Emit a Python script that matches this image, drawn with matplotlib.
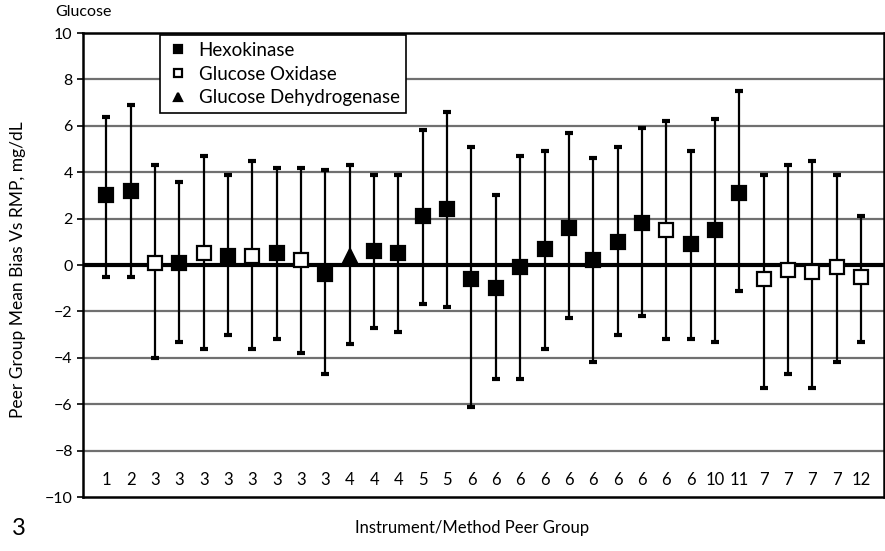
import matplotlib.pyplot as plt
import numpy as np

plt.rcParams['font.family'] = ['Lato', 'DejaVu Sans']

# peer group label, method (H = hexokinase, O = glucose oxidase, D = dehydrogenase)
groups = ['1', '2', '3', '3', '3', '3', '3', '3', '3', '3', '4', '4', '4', '5', '5',
          '6', '6', '6', '6', '6', '6', '6', '6', '6', '6', '10', '11', '7', '7', '7', '7', '12']
methods = ['H', 'H', 'O', 'H', 'O', 'H', 'O', 'H', 'O', 'H', 'D', 'H', 'H', 'H', 'H',
           'H', 'H', 'H', 'H', 'H', 'H', 'H', 'H', 'O', 'H', 'H', 'H', 'O', 'O', 'O', 'O', 'O']
mean_bias = [3.0, 3.2, 0.1, 0.1, 0.5, 0.4, 0.4, 0.5, 0.2, -0.4, 0.4, 0.6, 0.5, 2.1, 2.4,
             -0.6, -1.0, -0.1, 0.7, 1.6, 0.2, 1.0, 1.8, 1.5, 0.9, 1.5, 3.1, -0.6, -0.2, -0.3, -0.1, -0.5]
upper = [6.4, 6.9, 4.3, 3.6, 4.7, 3.9, 4.5, 4.2, 4.2, 4.1, 4.3, 3.9, 3.9, 5.8, 6.6,
         5.1, 3.0, 4.7, 4.9, 5.7, 4.6, 5.1, 5.9, 6.2, 4.9, 6.3, 7.5, 3.9, 4.3, 4.5, 3.9, 2.1]
lower = [-0.5, -0.5, -4.0, -3.3, -3.6, -3.0, -3.6, -3.2, -3.8, -4.7, -3.4, -2.7, -2.9, -1.7, -1.8,
         -6.1, -4.9, -4.9, -3.6, -2.3, -4.2, -3.0, -2.2, -3.2, -3.2, -3.3, -1.1, -5.3, -4.7, -5.3, -4.2, -3.3]

x = np.arange(1, len(groups) + 1)
mean_bias = np.array(mean_bias)
yerr = [mean_bias - np.array(lower), np.array(upper) - mean_bias]

fig = plt.figure(figsize=(8.85, 5.51), dpi=100)
ax = fig.add_axes([0.094, 0.098, 0.905, 0.842])

for yv in [-8, -6, -4, -2, 2, 4, 6, 8]:
    ax.axhline(yv, color='#707070', lw=1.6, zorder=1)
ax.axhline(0, color='black', lw=3, zorder=2)

ax.errorbar(x, mean_bias, yerr=yerr, fmt='none', ecolor='black', elinewidth=1.6,
            capsize=3, capthick=3, zorder=3)

styles = {'H': ('s', 'black', 'Hexokinase'),
          'O': ('s', 'white', 'Glucose Oxidase'),
          'D': ('^', 'black', 'Glucose Dehydrogenase')}
for m in ['H', 'O', 'D']:
    idx = [i for i, v in enumerate(methods) if v == m]
    mk, fc, lab = styles[m]
    ax.plot(x[idx], mean_bias[idx], linestyle='none', marker=mk, markersize=10,
            markerfacecolor=fc, markeredgecolor='black', markeredgewidth=1.6,
            label=lab, zorder=4)

for xi, g in zip(x, groups):
    ax.text(xi, -9.25, g, ha='center', va='center', fontsize=12)

ax.set_xlim(0.05, 32.95)
ax.set_ylim(-10, 10)
ax.set_yticks(range(-10, 11, 2))
ax.set_yticklabels([str(v).replace('-', '\u2212') for v in range(-10, 11, 2)], fontsize=11.5)
ax.set_xticks([])
ax.tick_params(axis='y', length=4, width=1.2)
for s in ax.spines.values():
    s.set_linewidth(1.8)
    s.set_color('black')

ax.set_ylabel('Peer Group Mean Bias Vs RMP, mg/dL', fontsize=12.5)
ax.yaxis.set_label_coords(-0.072, 0.49)

leg = ax.legend(loc='upper left', bbox_to_anchor=(0.096, 0.995), fontsize=13.5,
                frameon=True, fancybox=False, markerscale=0.6, handletextpad=0.5,
                borderpad=0.35, labelspacing=0.35, handlelength=1.2, borderaxespad=0)
leg.get_frame().set_edgecolor('black')
leg.get_frame().set_linewidth(1.2)
leg.get_frame().set_alpha(1)
leg.set_zorder(10)

fig.text(0.062, 0.978, 'Glucose', fontsize=11.5, va='center')
fig.text(0.013, 0.022, '3', fontsize=17, va='bottom')
fig.text(0.533, 0.028, 'Instrument/Method Peer Group', fontsize=12, ha='center', va='bottom')

fig.savefig('out.png', dpi=100)
